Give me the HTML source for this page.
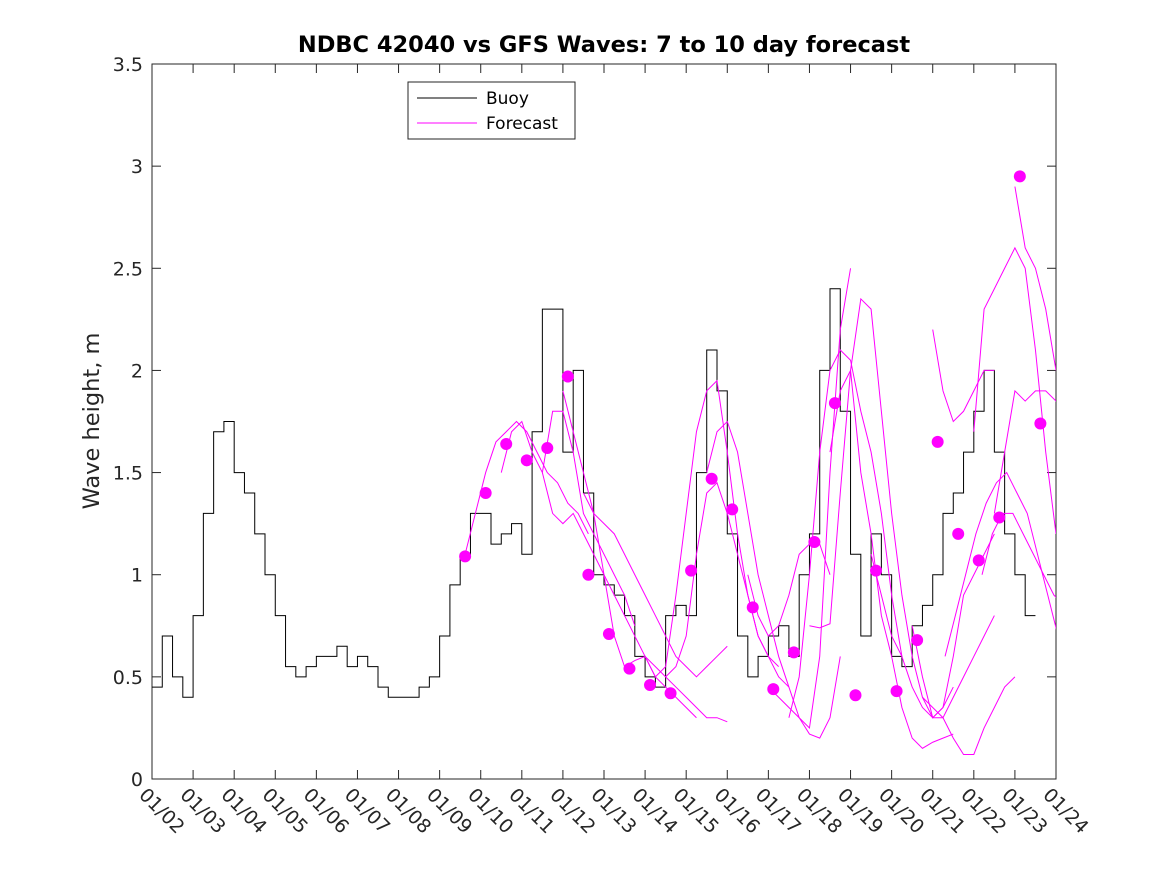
<!DOCTYPE html>
<html><head><meta charset="utf-8"><style>
body{margin:0;background:#fff;}
svg{font-family:"DejaVu Sans","Liberation Sans",sans-serif;}
</style></head><body>
<svg id="chart" width="1167" height="875">
<defs><clipPath id="clip"><rect x="152" y="64" width="904" height="715"/></clipPath></defs>
<rect x="0" y="0" width="1167" height="875" fill="#fff"/>
<rect x="152" y="64" width="904" height="715" fill="#fff" stroke="#262626" stroke-width="1"/>
<text x="604" y="52" text-anchor="middle" font-weight="bold" font-size="22.5" fill="#000">NDBC 42040 vs GFS Waves: 7 to 10 day forecast</text>
<text transform="translate(99,421) rotate(-90)" text-anchor="middle" font-size="22.5" fill="#262626">Wave height, m</text>
<g id="axes"></g>
<g id="series" clip-path="url(#clip)"></g>
<g>
<rect x="408" y="82" width="167" height="57" fill="#fff" stroke="#262626"/>
<line x1="417" y1="98" x2="477" y2="98" stroke="#000"/>
<text x="486" y="104" font-size="17" fill="#000">Buoy</text>
<line x1="417" y1="123" x2="477" y2="123" stroke="#f0f"/>
<text x="486" y="129" font-size="17" fill="#000">Forecast</text>
</g>
</svg>
<script>
const dateLabels=["01/02","01/03","01/04","01/05","01/06","01/07","01/08","01/09","01/10","01/11","01/12","01/13","01/14","01/15","01/16","01/17","01/18","01/19","01/20","01/21","01/22","01/23","01/24"];
const yTicks=[0,0.5,1,1.5,2,2.5,3,3.5];
const buoyStep=0.25;
const buoy=[0.45,0.7,0.5,0.4,0.8,1.3,1.7,1.75,1.5,1.4,1.2,1.0,0.8,0.55,0.5,0.55,0.6,0.6,0.65,0.55,0.6,0.55,0.45,0.4,0.4,0.4,0.45,0.5,0.7,0.95,1.1,1.3,1.3,1.15,1.2,1.25,1.1,1.7,2.3,2.3,1.6,2.0,1.4,1.0,0.95,0.9,0.8,0.6,0.5,0.45,0.8,0.85,0.8,1.5,2.1,1.9,1.2,0.7,0.5,0.6,0.7,0.75,0.6,1.0,1.2,2.0,2.4,1.8,1.1,0.7,1.2,1.0,0.6,0.55,0.75,0.85,1.0,1.3,1.4,1.6,1.8,2.0,1.6,1.2,1.0,0.8,0.8];
const dotStart=7.62, dotStep=0.5;
const dots=[1.09,1.40,1.64,1.56,1.62,1.97,1.0,0.71,0.54,0.46,0.42,1.02,1.47,1.32,0.84,0.44,0.62,1.16,1.84,0.41,1.02,0.43,0.68,1.65,1.20,1.07,1.28,2.95,1.74];
const fcStarts=[7.62,8.5,9.5,10.0,10.5,12.5,12.0,13.5,14.5,15.0,15.5,16.0,16.5,17.5,18.5,19.0,18.75,19.3,20.0,20.5,21.0,20.2];
const fc1=[1.1,1.3,1.5,1.65,1.7,1.75,1.7,1.6,1.5,1.45,1.35,1.3,1.2];
const fc2=[1.5,1.7,1.75,1.6,1.5,1.8,1.8,1.6,1.3,1.2,1.1,1.0,0.9,0.75];
const fc3=[1.5,1.3,1.25,1.3,1.2,1.1,1.0,0.9,0.8,0.7,0.6,0.5,0.45,0.4,0.35,0.3];
const fc4=[1.9,1.7,1.5,1.3,1.0,0.7,0.55,0.58,0.6,0.55,0.5,0.45,0.4,0.35,0.3,0.3,0.28];
const fc5=[1.4,1.3,1.25,1.2,1.1,1.0,0.9,0.8,0.7,0.6,0.55,0.5,0.55,0.6,0.65];
const fc6=[0.5,0.55,0.7,1.1,1.4,1.45,1.3,1.1,0.9,0.7,0.6,0.5,0.45];
const fc7=[0.6,0.5,0.55,0.9,1.3,1.7,1.9,1.95,1.6,1.2,0.9,0.7,0.6,0.55];
const fc8=[1.5,1.7,1.75,1.6,1.3,1.0,0.8,0.6,0.45,0.3,0.22,0.2,0.3,0.6];
const fc9=[1.0,0.8,0.7,0.75,0.9,1.1,1.15,1.15,1.0];
const fc10=[0.45,0.4,0.35,0.3,0.25,0.6,1.5,2.2,2.5];
const fc11=[0.3,0.5,1.0,1.6,2.0,2.1,2.05,1.8,1.6,1.3,0.9,0.6];
const fc12=[0.75,0.74,0.76,1.4,2.0,2.35,2.3,1.8,1.3,0.9,0.6,0.4,0.3,0.35,0.45];
const fc13=[1.6,1.9,2.0,1.5,1.2,0.8,0.6,0.35,0.2,0.15,0.18,0.2,0.22];
const fc14=[1.1,0.9,0.7,0.6,0.45,0.35,0.3,0.3,0.4,0.5,0.6,0.7,0.8];
const fc15=[0.75,0.5,0.3,0.35,0.6,0.9,1.0,1.1,1.2];
const fc16=[2.2,1.9,1.75,1.8,1.9,2.0,2.0];
const fc17=[0.4,0.35,0.3,0.2,0.12,0.12,0.25,0.35,0.45,0.5];
const fc18=[0.6,0.8,1.0,1.2,1.35,1.45,1.5,1.4,1.3,1.1,0.9,0.7,0.6,0.5,0.47];
const fc19=[1.7,2.3,2.4,2.5,2.6,2.5,2.1,1.6,1.2];
const fc20=[1.3,1.6,1.9,1.85,1.9,1.9,1.85,1.8];
const fc21=[2.9,2.6,2.5,2.3,2.0];
const fc22=[1.0,1.2,1.3,1.3,1.2,1.1,1.0,0.9,0.85];
const fcs=[fc1,fc2,fc3,fc4,fc5,fc6,fc7,fc8,fc9,fc10,fc11,fc12,fc13,fc14,fc15,fc16,fc17,fc18,fc19,fc20,fc21,fc22];

const X0=152,X1=1056,Y0=779,Y1=64,DAYS=22,YMAX=3.5;
const xs=d=>X0+(X1-X0)*d/DAYS;
const ys=v=>Y0-(Y0-Y1)*v/YMAX;
const NS="http://www.w3.org/2000/svg";
function mk(tag,attrs,parent){const e=document.createElementNS(NS,tag);for(const k in attrs)e.setAttribute(k,attrs[k]);parent.appendChild(e);return e;}
const axes=document.getElementById('axes'), ser=document.getElementById('series');
yTicks.forEach(v=>{
  const y=ys(v);
  const t1=mk('line',{x1:X0,y1:y,x2:X0+9,y2:y,stroke:'#262626'},axes);
  
  
  mk('line',{x1:X1,y1:y,x2:X1-9,y2:y,stroke:'#262626'},axes);
  const t=mk('text',{x:X0-9,y:y+7,'text-anchor':'end','font-size':'19',fill:'#262626'},axes);
  t.textContent=String(v);
  
  
});
dateLabels.forEach((lab,i)=>{
  const x=xs(i);
  const tk=mk('line',{x1:x,y1:Y0,x2:x,y2:Y0-9,stroke:'#262626'},axes);
  
  
  mk('line',{x1:x,y1:Y1,x2:x,y2:Y1+9,stroke:'#262626'},axes);
  const t=mk('text',{transform:`translate(${x-14},${Y0+17}) rotate(45)`,'font-size':'19',fill:'#262626'},axes);
  t.textContent=lab;
  
  
});
let pts=[];
buoy.forEach((v,i)=>{const x=xs(i*buoyStep);if(i>0)pts.push(x+','+ys(buoy[i-1]));pts.push(x+','+ys(v));});
const bl=mk('polyline',{points:pts.join(' '),fill:'none',stroke:'#000','stroke-width':1},ser);


fcs.forEach((arr,j)=>{
  const p=arr.map((v,i)=>xs(fcStarts[j]+i*0.25)+','+ys(v)).join(' ');
  const l=mk('polyline',{points:p,fill:'none',stroke:'#f0f','stroke-width':1},ser);
  
  
});
dots.forEach((v,i)=>{
  const c=mk('circle',{cx:xs(dotStart+i*dotStep),cy:ys(v),r:6,fill:'#f0f'},ser);
  
  
});
</script>
</body></html>
